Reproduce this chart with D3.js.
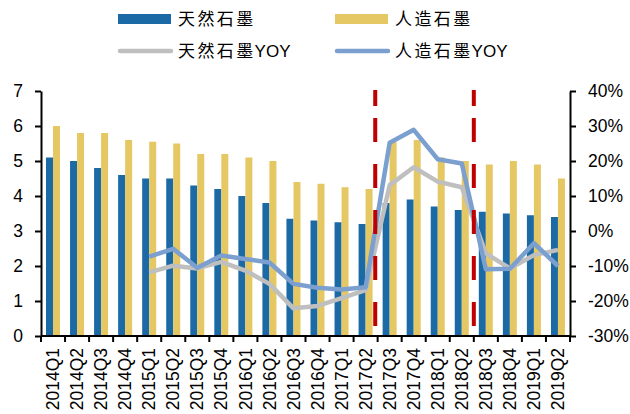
<!DOCTYPE html>
<html>
<head>
<meta charset="utf-8">
<script src="https://cdn.jsdelivr.net/npm/d3@7"></script>
<style>
  html, body { margin: 0; padding: 0; background: #fff; }
  svg { display: block; }
  text { font-family: "Liberation Sans", Arial, sans-serif; fill: #000; }
  .cjk { font-family: "Noto Sans CJK SC", sans-serif; }
</style>
</head>
<body>
<svg id="chart" width="630" height="414"></svg>
<script>
// Quarterly output (left axis) and year-on-year growth (right axis)
const quarters = ["2014Q1","2014Q2","2014Q3","2014Q4","2015Q1","2015Q2","2015Q3","2015Q4",
  "2016Q1","2016Q2","2016Q3","2016Q4","2017Q1","2017Q2","2017Q3","2017Q4",
  "2018Q1","2018Q2","2018Q3","2018Q4","2019Q1","2019Q2"];
const naturalValues = [5.1,5.0,4.8,4.6,4.5,4.5,4.3,4.2,4.0,3.8,3.35,3.3,3.25,3.2,3.8,3.9,3.7,3.6,3.55,3.5,3.45,3.4];
const syntheticValues = [6.0,5.8,5.8,5.6,5.55,5.5,5.2,5.2,5.1,5.0,4.4,4.35,4.25,4.2,5.55,5.6,5.1,5.0,4.9,5.0,4.9,4.5];
// YOY series start in 2015Q1 (null = no value)
const naturalYoy = [null,null,null,null,-11.8,-9.9,-10.7,-8.8,-11.3,-15.1,-22.1,-21.4,-19.2,-16.9,13.1,18.2,14.1,12.5,-6.4,-10.7,-6.9,-5.4];
const syntheticYoy = [null,null,null,null,-7.3,-5.1,-10.5,-7.0,-8.0,-9.0,-15.1,-16.2,-16.7,-16.1,25.2,28.9,20.5,19.3,-10.9,-10.8,-3.5,-10.0];
const leftTicks = [0,1,2,3,4,5,6,7];
const rightTicks = [-30,-20,-10,0,10,20,30,40];
// Policy markers: [quarter, fraction across its band]
const markers = [["2017Q2", 0.9], ["2018Q3", 0]];

const seriesNames = ["天然石墨", "人造石墨"];
const colors = { natural: "#1b6aa5", synthetic: "#e5c864", naturalYoy: "#bfbfbf", syntheticYoy: "#7b9fcf", marker: "#c00000" };

const svg = d3.select("#chart");
const plotLeft = 41, plotRight = 570, plotTop = 91, plotBottom = 336;
const fontSize = 17.5;

const x = d3.scaleBand().domain(quarters).range([plotLeft, plotRight]).padding(0);
const xSub = d3.scaleBand().domain(["natural","synthetic"]).range([5, 19]).padding(0);
const yL = d3.scaleLinear().domain([0, 7]).range([plotBottom, plotTop]);
const yR = d3.scaleLinear().domain([-30, 40]).range([plotBottom, plotTop]);

// Bars
const bars = svg.append("g");
quarters.forEach((q, i) => {
  bars.append("rect")
    .attr("x", x(q) + xSub("natural")).attr("width", xSub.bandwidth())
    .attr("y", yL(naturalValues[i])).attr("height", yL(0) - yL(naturalValues[i]))
    .attr("fill", colors.natural);
  bars.append("rect")
    .attr("x", x(q) + xSub("synthetic")).attr("width", xSub.bandwidth())
    .attr("y", yL(syntheticValues[i])).attr("height", yL(0) - yL(syntheticValues[i]))
    .attr("fill", colors.synthetic);
});

// YOY lines
const line = d3.line()
  .defined(d => d.v !== null)
  .x(d => x(d.q) + x.bandwidth() / 2)
  .y(d => yR(d.v));
svg.append("path")
  .datum(quarters.map((q, i) => ({ q, v: naturalYoy[i] })))
  .attr("d", line).attr("fill", "none")
  .attr("stroke", colors.naturalYoy).attr("stroke-width", 4.5)
  .attr("stroke-linejoin", "round");
svg.append("path")
  .datum(quarters.map((q, i) => ({ q, v: syntheticYoy[i] })))
  .attr("d", line).attr("fill", "none")
  .attr("stroke", colors.syntheticYoy).attr("stroke-width", 4.5)
  .attr("stroke-linejoin", "round");

// Red dashed markers
markers.forEach(([q, f]) => {
  const mx = x(q) + x.bandwidth() * f;
  svg.append("line")
    .attr("x1", mx).attr("x2", mx).attr("y1", yR(40) - 1).attr("y2", plotBottom)
    .attr("stroke", colors.marker).attr("stroke-width", 4)
    .attr("stroke-dasharray", "16 12 24 22 24 22 24 22 24 22 24 22");
});

// Axes
const axisStyle = g => {
  g.selectAll("path.domain").attr("stroke", "#000").attr("stroke-width", 2);
  g.selectAll(".tick line").attr("stroke", "#000").attr("stroke-width", 2);
  g.selectAll("text").attr("font-size", fontSize).attr("font-family", "Liberation Sans, Arial, sans-serif").attr("fill", "#000");
};

svg.append("g").attr("transform", `translate(${plotLeft},0)`)
  .call(d3.axisLeft(yL).tickValues(leftTicks).tickSizeInner(6).tickSizeOuter(0).tickPadding(12).tickFormat(d3.format("d")))
  .call(axisStyle);

svg.append("g").attr("transform", `translate(${plotRight},0)`)
  .call(d3.axisRight(yR).tickValues(rightTicks).tickSizeInner(6).tickSizeOuter(0).tickPadding(12).tickFormat(d => d + "%"))
  .call(axisStyle);

// Bottom axis: ticks at band boundaries, rotated labels
const xAxisG = svg.append("g").attr("transform", `translate(0,${plotBottom})`);
xAxisG.append("line").attr("x1", plotLeft).attr("x2", plotRight).attr("stroke", "#000").attr("stroke-width", 2);
const boundaries = quarters.map(q => x(q)).concat([plotRight]);
xAxisG.selectAll("line.tk").data(boundaries).enter().append("line").attr("class", "tk")
  .attr("x1", d => d).attr("x2", d => d).attr("y1", 0).attr("y2", 6)
  .attr("stroke", "#000").attr("stroke-width", 2);
xAxisG.selectAll("text").data(quarters).enter().append("text")
  .attr("transform", d => `translate(${x(d) + x.bandwidth() / 2},12) rotate(-90)`)
  .attr("text-anchor", "end").attr("dy", "0.35em")
  .attr("font-size", fontSize)
  .text(d => d);

// Legend
const legend = svg.append("g");
const legendItems = [
  { type: "rect", color: colors.natural, label: seriesNames[0], suffix: "", x: 118, y: 19 },
  { type: "rect", color: colors.synthetic, label: seriesNames[1], suffix: "", x: 335, y: 19 },
  { type: "line", color: colors.naturalYoy, label: seriesNames[0], suffix: "YOY", x: 118, y: 51 },
  { type: "line", color: colors.syntheticYoy, label: seriesNames[1], suffix: "YOY", x: 335, y: 51 }
];
legendItems.forEach(it => {
  if (it.type === "rect") {
    legend.append("rect").attr("x", it.x).attr("y", it.y - 5).attr("width", 53).attr("height", 10).attr("fill", it.color);
  } else {
    legend.append("line").attr("x1", it.x + 2).attr("x2", it.x + 53).attr("y1", it.y).attr("y2", it.y)
      .attr("stroke", it.color).attr("stroke-width", 4.5).attr("stroke-linecap", "round");
  }
  const t = legend.append("text").attr("x", it.x + 60).attr("y", it.y).attr("dy", "0.36em").attr("font-size", 17);
  t.append("tspan").attr("class", "cjk").attr("letter-spacing", "2.4px").text(it.label);
  if (it.suffix) t.append("tspan").attr("font-family", "Liberation Sans, Arial, sans-serif").attr("dx", -1).text(it.suffix);
});
</script>
</body>
</html>
